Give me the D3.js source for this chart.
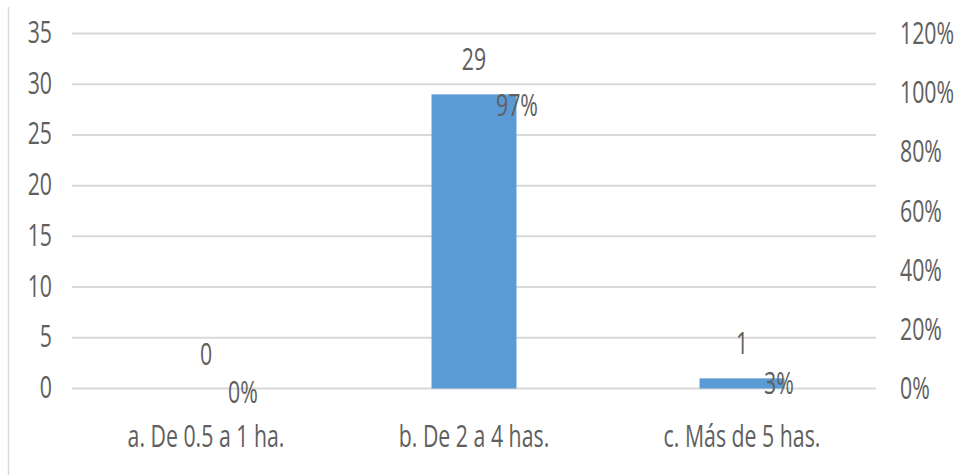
<!DOCTYPE html>
<html>
<head>
<meta charset="utf-8">
<script src="https://cdn.jsdelivr.net/npm/d3@7"></script>
<style>
  html, body { margin: 0; padding: 0; background: #fff; }
  svg { display: block; }
  text { font-family: "Open Sans", sans-serif; font-weight: 400; fill: #606060; }
</style>
</head>
<body>
<svg id="chart" width="963" height="475"></svg>
<script>
// Farm size categories, respondent counts and their share of the total
const categories = ["a. De 0.5 a 1 ha.", "b. De 2 a 4 has.", "c. Más de 5 has."];
const counts = [0, 29, 1];
const shares = [0, 0.97, 0.03];
const shareLabels = ["0%", "97%", "3%"];
const leftTicks = [0, 5, 10, 15, 20, 25, 30, 35];
const rightTicks = [0, 0.2, 0.4, 0.6, 0.8, 1.0, 1.2];

const svg = d3.select("#chart");
const W = 963, H = 475;
const plot = { left: 72, right: 876, top: 33.5, bottom: 388.5 };
const fontSize = 21.3;
const stretchY = 1.45;   // tall, narrow lettering

const x = d3.scaleBand()
  .domain(categories)
  .range([plot.left, plot.right])
  .paddingInner(0.683)
  .paddingOuter(0.683 / 2);

const yL = d3.scaleLinear().domain([0, 35]).range([plot.bottom, plot.top]);
const yR = d3.scaleLinear().domain([0, 1.2]).range([plot.bottom, plot.top]);
const pct = d3.format(".0%");

// Place a text item with its baseline at (px, py), stretched vertically
function label(g, px, py, str, anchor) {
  return g.append("text")
    .attr("transform", `translate(${px},${py}) scale(1,${stretchY})`)
    .attr("text-anchor", anchor)
    .style("font-size", fontSize + "px")
    .text(str);
}

// Chart frame: only the left edge shows
svg.append("line")
  .attr("x1", 8.5).attr("x2", 8.5)
  .attr("y1", 7).attr("y2", H)
  .attr("stroke", "#d9d9d9").attr("stroke-width", 1.5);

// Horizontal gridlines
svg.append("g").selectAll("line")
  .data(leftTicks)
  .join("line")
  .attr("x1", plot.left).attr("x2", plot.right)
  .attr("y1", d => yL(d)).attr("y2", d => yL(d))
  .attr("stroke", "#d9d9d9").attr("stroke-width", 2);

// Left axis labels (counts)
const gL = svg.append("g");
leftTicks.forEach(v => label(gL, 52, yL(v) + 9.5, v, "end"));

// Right axis labels (percentages)
const gR = svg.append("g");
rightTicks.forEach(v => label(gR, 900, yR(v) + 10.5, pct(v), "start"));

// Bars
svg.append("g").selectAll("rect")
  .data(counts)
  .join("rect")
  .attr("x", (d, i) => x(categories[i]))
  .attr("y", d => yL(d))
  .attr("width", x.bandwidth())
  .attr("height", d => yL(0) - yL(d))
  .attr("fill", "#5b9bd5");

// Count labels above bars
const gC = svg.append("g");
counts.forEach((d, i) =>
  label(gC, x(categories[i]) + x.bandwidth() / 2, yL(d) - 24, d, "middle"));

// Share labels, to the right of each share point
const gS = svg.append("g");
shares.forEach((d, i) =>
  label(gS, x(categories[i]) + x.bandwidth() / 2 + 22, yR(d) + 14, shareLabels[i], "start"));

// Category labels
const gX = svg.append("g");
categories.forEach(c => label(gX, x(c) + x.bandwidth() / 2, 447, c, "middle"));
</script>
</body>
</html>
